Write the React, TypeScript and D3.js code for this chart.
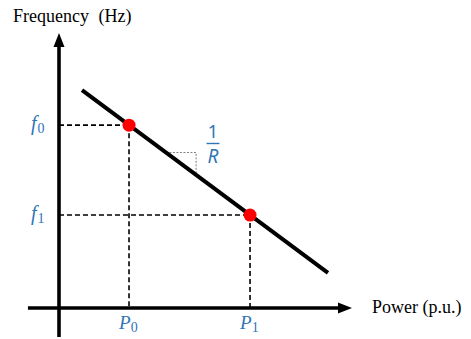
import React from "react";
import * as d3 from "d3";

// Droop characteristic: frequency falls linearly as delivered power rises.
const droopPower = [0.785, 9.18];
const droopFreq = [7.92, 1.28];

// Two operating points on the droop line.
const opPower = [2.39, 6.52];
const opFreq = [6.65, 3.38];
const powerLabels = ["0", "1"];
const freqLabels = ["0", "1"];

// Slope triangle marking 1/R.
const slopePower = [3.65, 4.68];

// Axis extents (the axes run slightly past the origin).
const axisMin = [-1.06, -1.05];
const axisMax = [10, 10];

const xAxisTitle = "Power (p.u.)";
const yAxisTitle = "Frequency (Hz)";

const W = 471;
const H = 339;
const BLUE = "#2E75B6";

export default function App() {
  const x = d3.scaleLinear().domain([0, 10]).range([59, 352]);
  const y = d3.scaleLinear().domain([0, 10]).range([308, 33]);

  const fAt = d3
    .scaleLinear()
    .domain(droopPower)
    .range(droopFreq);

  const droopLine = d3
    .line<[number, number]>()
    .x((d) => x(d[0]))
    .y((d) => y(d[1]));
  const droopPts: [number, number][] = droopPower.map((p, i) => [p, droopFreq[i]]);

  const arrowLen = 14;
  const arrowHalf = 5.5;
  const x0 = x(0);
  const y0 = y(0);
  const xTip = x(axisMax[0]);
  const yTip = y(axisMax[1]);

  const triTop = fAt(slopePower[0]);
  const triPath = d3.path();
  triPath.moveTo(x(slopePower[0]), y(triTop));
  triPath.lineTo(x(slopePower[1]), y(triTop));
  triPath.lineTo(x(slopePower[1]), y(fAt(slopePower[1])));

  const mathFont = "'Liberation Serif', 'DejaVu Serif', serif";

  return (
    <svg
      width={W}
      height={H}
      style={{ position: "absolute", left: 0, top: 0, background: "#fff" }}
    >
      {/* dashed guides from each operating point to both axes */}
      {opPower.map((p, i) => (
        <g key={"g" + i} stroke="#000" strokeWidth={1.6} strokeDasharray="5,3" fill="none">
          <line x1={x0} y1={y(opFreq[i])} x2={x(p)} y2={y(opFreq[i])} />
          <line x1={x(p)} y1={y(opFreq[i])} x2={x(p)} y2={y0} />
        </g>
      ))}

      {/* slope triangle */}
      <path
        d={triPath.toString()}
        fill="none"
        stroke="#7f7f7f"
        strokeWidth={1}
        strokeDasharray="2,1.5"
      />

      {/* axes */}
      <line x1={x(axisMin[0])} y1={y0} x2={xTip - arrowLen + 1} y2={y0} stroke="#000" strokeWidth={3.6} />
      <path
        d={`M${xTip},${y0} L${xTip - arrowLen},${y0 - arrowHalf} L${xTip - arrowLen},${y0 + arrowHalf} Z`}
        fill="#000"
      />
      <line x1={x0} y1={y(axisMin[1])} x2={x0} y2={yTip + arrowLen - 1} stroke="#000" strokeWidth={3.6} />
      <path
        d={`M${x0},${yTip} L${x0 - arrowHalf},${yTip + arrowLen} L${x0 + arrowHalf},${yTip + arrowLen} Z`}
        fill="#000"
      />

      {/* droop line */}
      <path d={droopLine(droopPts) ?? ""} fill="none" stroke="#000" strokeWidth={4} />

      {/* operating points */}
      {opPower.map((p, i) => (
        <circle key={"c" + i} cx={x(p)} cy={y(opFreq[i])} r={6.5} fill="#FF0000" />
      ))}

      {/* axis titles */}
      <text
        x={13}
        y={22}
        fontFamily="'Liberation Serif', 'Times New Roman', serif"
        fontSize={18}
        wordSpacing={5}
        fill="#000"
      >
        {yAxisTitle}
      </text>
      <text x={372} y={313} fontFamily="'Liberation Serif', 'Times New Roman', serif" fontSize={18} fill="#000">
        {xAxisTitle}
      </text>

      {/* frequency labels */}
      {opFreq.map((f, i) => (
        <text key={"f" + i} x={31} y={y(f) + 5} fontFamily={mathFont} fill={BLUE}>
          <tspan fontSize={20} fontStyle="italic">f</tspan>
          <tspan fontSize={14} dy={3} dx={1}>{freqLabels[i]}</tspan>
        </text>
      ))}

      {/* power labels */}
      {opPower.map((p, i) => (
        <text key={"p" + i} x={x(p) - 10} y={329} fontFamily={mathFont} fill={BLUE}>
          <tspan fontSize={19} fontStyle="italic">P</tspan>
          <tspan fontSize={14} dy={3}>{powerLabels[i]}</tspan>
        </text>
      ))}

      {/* 1/R slope label */}
      <g fill={BLUE} fontFamily="'Noto Sans', 'Open Sans', sans-serif" textAnchor="middle">
        <text x={213} y={137.5} fontSize={18}>1</text>
        <line x1={206.5} x2={219.5} y1={143.5} y2={143.5} stroke={BLUE} strokeWidth={1.4} />
        <text x={213} y={163} fontSize={19} fontStyle="italic">R</text>
      </g>
    </svg>
  );
}
